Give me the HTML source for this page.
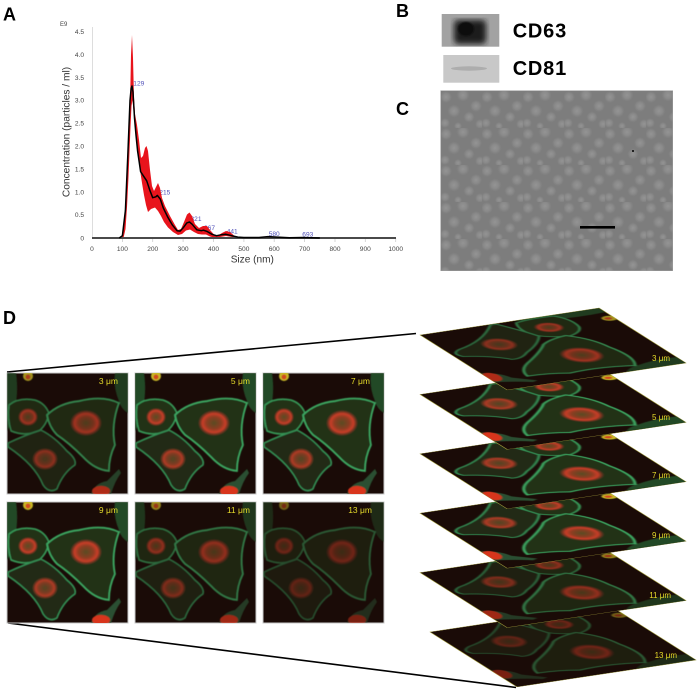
<!DOCTYPE html>
<html><head><meta charset="utf-8">
<style>
html,body{margin:0;padding:0;background:#fff;width:700px;height:693px;overflow:hidden}
svg{display:block}
text{font-family:"Liberation Sans",Arial,sans-serif}
</style></head><body>
<svg width="700" height="693" viewBox="0 0 700 693" xmlns="http://www.w3.org/2000/svg">
<defs>
  <radialGradient id="blob"><stop offset="0" stop-color="#9a9a9a" stop-opacity=".8"/><stop offset=".55" stop-color="#959595" stop-opacity=".55"/><stop offset="1" stop-color="#909090" stop-opacity="0"/></radialGradient>
  <pattern id="tem" x="441" y="91" width="41" height="37" patternUnits="userSpaceOnUse">
    <rect width="41" height="37" fill="#7d7d7d"/>
    <circle cx="5" cy="6" r="6" fill="url(#blob)"/>
    <circle cx="22" cy="4" r="6.5" fill="url(#blob)"/>
    <circle cx="35" cy="15" r="6" fill="url(#blob)"/>
    <circle cx="13" cy="20" r="6.5" fill="url(#blob)"/>
    <circle cx="28" cy="26" r="5.5" fill="url(#blob)"/>
    <circle cx="4" cy="32" r="5" fill="url(#blob)"/>
    <circle cx="39" cy="33" r="5" fill="url(#blob)"/>
    <circle cx="17" cy="35" r="4" fill="url(#blob)"/>
  </pattern>
  <radialGradient id="nuc"><stop offset="0" stop-color="#5a4a22"/><stop offset=".45" stop-color="#8a3e22"/><stop offset=".72" stop-color="#c83c28"/><stop offset="1" stop-color="#c83c28" stop-opacity="0"/></radialGradient>
  <filter id="bl"><feGaussianBlur stdDeviation="0.6"/></filter>
  <filter id="bl2"><feGaussianBlur stdDeviation="3"/></filter>
  <symbol id="cells" viewBox="0 0 121 121">
    <g filter="url(#bl)">
      <path d="M0,0 L9,0 Q12,20 7,40 Q4,52 0,58Z" fill="#224a28"/>
      <path d="M108,0 L121,0 L121,40 Q114,36 112,28 Q106,14 108,0Z" fill="#224a28"/>
      <path d="M2,32 Q12,24 28,27 Q38,30 42,40 Q40,52 32,58 Q18,64 4,58 Q0,45 2,32Z" fill="#223018" stroke="#379a58" stroke-width="1.5"/>
      <ellipse cx="21" cy="44" rx="10" ry="9" fill="url(#nuc)"/>
      <path d="M40,42 Q52,30 72,28 Q96,22 112,30 Q104,52 108,72 Q102,84 102,98 Q88,97 76,84 Q62,70 50,62 Q42,54 40,42Z" fill="#233019" stroke="#3ca862" stroke-width="1.7"/>
      <ellipse cx="79" cy="50" rx="16" ry="13" fill="url(#nuc)"/>
      <path d="M1,70 Q18,62 34,57 Q48,64 60,78 Q70,86 68,92 Q56,100 50,116 Q42,121 36,112 Q28,92 1,74Z" fill="#202c17" stroke="#348f55" stroke-width="1.5"/>
      <ellipse cx="38" cy="86" rx="13" ry="11" fill="url(#nuc)" opacity=".85"/>
      <circle cx="21" cy="3" r="5" fill="#c8b828"/>
      <circle cx="21" cy="4" r="2.5" fill="#d04a20"/>
      <path d="M84,121 Q88,110 100,108 Q108,100 112,96 L114,100 Q108,108 104,121Z" fill="#2a5030"/>
      <ellipse cx="94" cy="118" rx="9" ry="5" fill="#d8361f"/>
    </g>
  </symbol>
</defs>

<!-- Panel labels -->
<g font-weight="bold" font-size="18" fill="#000">
  <text x="3" y="20.5">A</text>
  <text x="396" y="17">B</text>
  <text x="396" y="115">C</text>
  <text x="3" y="324">D</text>
</g>

<!-- Panel A chart -->
<line x1="92.5" y1="27" x2="92.5" y2="238" stroke="#ddd" stroke-width="1"/>
<g stroke="#ccc" stroke-width="0.8">
  <line x1="122.4" y1="238" x2="122.4" y2="242"/><line x1="152.7" y1="238" x2="152.7" y2="242"/>
  <line x1="183.1" y1="238" x2="183.1" y2="242"/><line x1="213.5" y1="238" x2="213.5" y2="242"/>
  <line x1="243.9" y1="238" x2="243.9" y2="242"/><line x1="274.2" y1="238" x2="274.2" y2="242"/>
  <line x1="304.6" y1="238" x2="304.6" y2="242"/><line x1="335" y1="238" x2="335" y2="242"/>
  <line x1="365.3" y1="238" x2="365.3" y2="242"/><line x1="395.7" y1="238" x2="395.7" y2="242"/>
</g>
<g font-size="6.6" fill="#444" text-anchor="end">
  <text x="84" y="34">4.5</text><text x="84" y="56.9">4.0</text><text x="84" y="79.8">3.5</text>
  <text x="84" y="102.7">3.0</text><text x="84" y="125.6">2.5</text><text x="84" y="148.5">2.0</text>
  <text x="84" y="171.4">1.5</text><text x="84" y="194.3">1.0</text><text x="84" y="217.2">0.5</text>
  <text x="84" y="240.3">0</text>
</g>
<text x="60" y="26" font-size="6" fill="#444">E9</text>
<g font-size="6.6" fill="#444" text-anchor="middle">
  <text x="92" y="251">0</text><text x="122.4" y="251">100</text><text x="152.7" y="251">200</text>
  <text x="183.1" y="251">300</text><text x="213.5" y="251">400</text><text x="243.9" y="251">500</text>
  <text x="274.2" y="251">600</text><text x="304.6" y="251">700</text><text x="335" y="251">800</text>
  <text x="365.3" y="251">900</text><text x="395.7" y="251">1000</text>
</g>
<text transform="translate(69.5,132) rotate(-90)" text-anchor="middle" font-size="10.2" fill="#333">Concentration (particles / ml)</text>
<text x="252.3" y="262.5" text-anchor="middle" font-size="10.1" fill="#333">Size (nm)</text>

<g font-size="6.6" fill="#5050b8">
  <text x="133.3" y="85.5">129</text>
  <text x="159.3" y="194.7">215</text>
  <text x="190.5" y="221">321</text>
  <text x="204" y="230">367</text>
  <text x="226.7" y="233.3">441</text>
  <text x="268.7" y="236">580</text>
  <text x="302.3" y="236.7">693</text>
</g>

<polygon fill="#e8141c" points="121,238 123,232 125,215 127,180 128.5,150 130,105 131,55 132,35 133,58 134,98 135,114 137,125 139,140 141,158 143,156 145,148 146.5,146 148,151 150,170 152,186 154,191 156,187 158,183 160,188 162,198 165,206 170,216 175,225 178,230 181,229 184,222 187,214.5 189.5,212.5 192,216 195,224 199,228 203,226 207,226 210,230 214,234.5 218,235.5 222,233 226,231 230,232 234,235.5 240,237.5 260,237.5 268,236 278,237.5 300,238 240,238 232,237 226,236 220,237 214,237.5 210,236.5 206,234.5 202,234.5 198,234 194,232 190,229.5 186,230.5 182,234 178,235 173,232 168,227.5 164,222 161,216 158,211 155,207.5 151,209 148,212 146,205 144,195 142,183 140,170 138,154 136,136 134,116 132.5,100 131.5,106 130.5,127 129.5,152 128.5,177 127,207 125.5,229 123.5,238"/>
<line x1="92" y1="238" x2="396" y2="238" stroke="#4a4a4a" stroke-width="2"/>
<polyline fill="none" stroke="#000" stroke-width="1.5" stroke-linejoin="round" points="119.3,238 122.4,235.7 125.4,210.5 127.8,155.6 130,100.6 131.2,88 132,86 133,92 134.5,118 136,135 137.6,151 140.6,171.6 143.6,176.2 146.7,180.8 149.7,189.9 152.7,197.7 155.8,196.8 157.3,195.4 160.3,199.1 163.4,208.2 167.9,217.4 172.5,225.2 177,230.7 180.1,231.1 183.1,227.9 186.8,222.9 189.5,222 192.2,224.3 196.8,229.8 201.3,230.7 203.5,230.2 207.4,231.6 212,234.3 216.5,235.7 221.1,234.8 225.9,234.3 231.7,235.7 237.8,237.1 243.9,237.5 259,237.5 268.1,236.6 277.3,237.1 289.4,237.8 302.5,237.5 319.8,238"/>

<!-- Panel B western blots -->
<rect x="441.7" y="14" width="57.6" height="32.7" fill="#a2a2a2"/>
<rect x="454" y="20" width="32" height="24" rx="4" fill="#1e1e1e" filter="url(#bl2)"/>
<ellipse cx="466" cy="29" rx="8" ry="7" fill="#111" filter="url(#bl)"/>
<rect x="443.3" y="55" width="56" height="27.7" fill="#c8c8c8"/>
<ellipse cx="469" cy="68.5" rx="18" ry="2.2" fill="#adadad"/>
<g font-weight="bold" font-size="20" fill="#000" letter-spacing="0.8">
  <text x="512.7" y="37.3">CD63</text>
  <text x="512.7" y="75">CD81</text>
</g>

<!-- Panel C TEM -->
<rect x="440.7" y="90.7" width="232" height="180" fill="url(#tem)"/>
<rect x="440.7" y="90.7" width="232" height="180" fill="none" stroke="#999" stroke-width="0.5"/>
<rect x="580" y="226" width="35" height="2.6" fill="#000"/>
<rect x="632" y="150" width="2" height="2" fill="#222"/>

<!-- Panel D connecting lines -->
<line x1="7" y1="372" x2="416" y2="333.5" stroke="#000" stroke-width="1.6"/>
<line x1="8" y1="623" x2="516" y2="687.5" stroke="#000" stroke-width="1.6"/>

<!-- Grid images -->
<g>
  <rect x="7" y="373" width="121" height="121" fill="#1a0b07" stroke="#c8c8c8" stroke-width="1"/>
  <use href="#cells" x="7" y="373" width="121" height="121" opacity=".78"/>
  <rect x="135" y="373" width="121" height="121" fill="#1a0b07" stroke="#c8c8c8" stroke-width="1"/>
  <use href="#cells" x="135" y="373" width="121" height="121"/>
  <rect x="263" y="373" width="121" height="121" fill="#1a0b07" stroke="#c8c8c8" stroke-width="1"/>
  <use href="#cells" x="263" y="373" width="121" height="121"/>
  <rect x="7" y="502" width="121" height="121" fill="#1a0b07" stroke="#c8c8c8" stroke-width="1"/>
  <use href="#cells" x="7" y="502" width="121" height="121"/>
  <rect x="135" y="502" width="121" height="121" fill="#1a0b07" stroke="#c8c8c8" stroke-width="1"/>
  <use href="#cells" x="135" y="502" width="121" height="121" opacity=".7"/>
  <rect x="263" y="502" width="121" height="121" fill="#1a0b07" stroke="#c8c8c8" stroke-width="1"/>
  <use href="#cells" x="263" y="502" width="121" height="121" opacity=".5"/>
</g>
<g font-family="DejaVu Sans, Liberation Sans, sans-serif" font-size="8.5" fill="#e6dc2a" text-anchor="end">
  <text x="118" y="384">3 μm</text>
  <text x="250" y="384">5 μm</text>
  <text x="370" y="384">7 μm</text>
  <text x="118" y="513">9 μm</text>
  <text x="250" y="513">11 μm</text>
  <text x="372" y="513">13 μm</text>
</g>

<!-- Stacked layers (bottom first) -->
<g transform="matrix(0.719,0.4545,-1.479,0.223,609,605)">
  <rect width="121" height="121" fill="#1a0b07" stroke="#a09a3a" stroke-width="0.6"/>
  <use href="#cells" width="121" height="121" opacity=".5"/>
</g>
<g transform="matrix(0.719,0.4545,-1.479,0.223,599,545.6)">
  <rect width="121" height="121" fill="#1a0b07" stroke="#a09a3a" stroke-width="0.6"/>
  <use href="#cells" width="121" height="121" opacity=".7"/>
</g>
<g transform="matrix(0.719,0.4545,-1.479,0.223,599,486.2)">
  <rect width="121" height="121" fill="#1a0b07" stroke="#a09a3a" stroke-width="0.6"/>
  <use href="#cells" width="121" height="121"/>
</g>
<g transform="matrix(0.719,0.4545,-1.479,0.223,599,426.8)">
  <rect width="121" height="121" fill="#1a0b07" stroke="#a09a3a" stroke-width="0.6"/>
  <use href="#cells" width="121" height="121"/>
</g>
<g transform="matrix(0.719,0.4545,-1.479,0.223,599,367.4)">
  <rect width="121" height="121" fill="#1a0b07" stroke="#a09a3a" stroke-width="0.6"/>
  <use href="#cells" width="121" height="121"/>
</g>
<g transform="matrix(0.719,0.4545,-1.479,0.223,599,308)">
  <rect width="121" height="121" fill="#1a0b07" stroke="#a09a3a" stroke-width="0.6"/>
  <use href="#cells" width="121" height="121" opacity=".78"/>
</g>
<g font-family="DejaVu Sans, Liberation Sans, sans-serif" font-size="8" fill="#e6dc2a" text-anchor="end">
  <text x="670" y="361">3 μm</text>
  <text x="670" y="420">5 μm</text>
  <text x="670" y="478">7 μm</text>
  <text x="670" y="538">9 μm</text>
  <text x="671" y="598">11 μm</text>
  <text x="677" y="658">13 μm</text>
</g>
</svg>
</body></html>
